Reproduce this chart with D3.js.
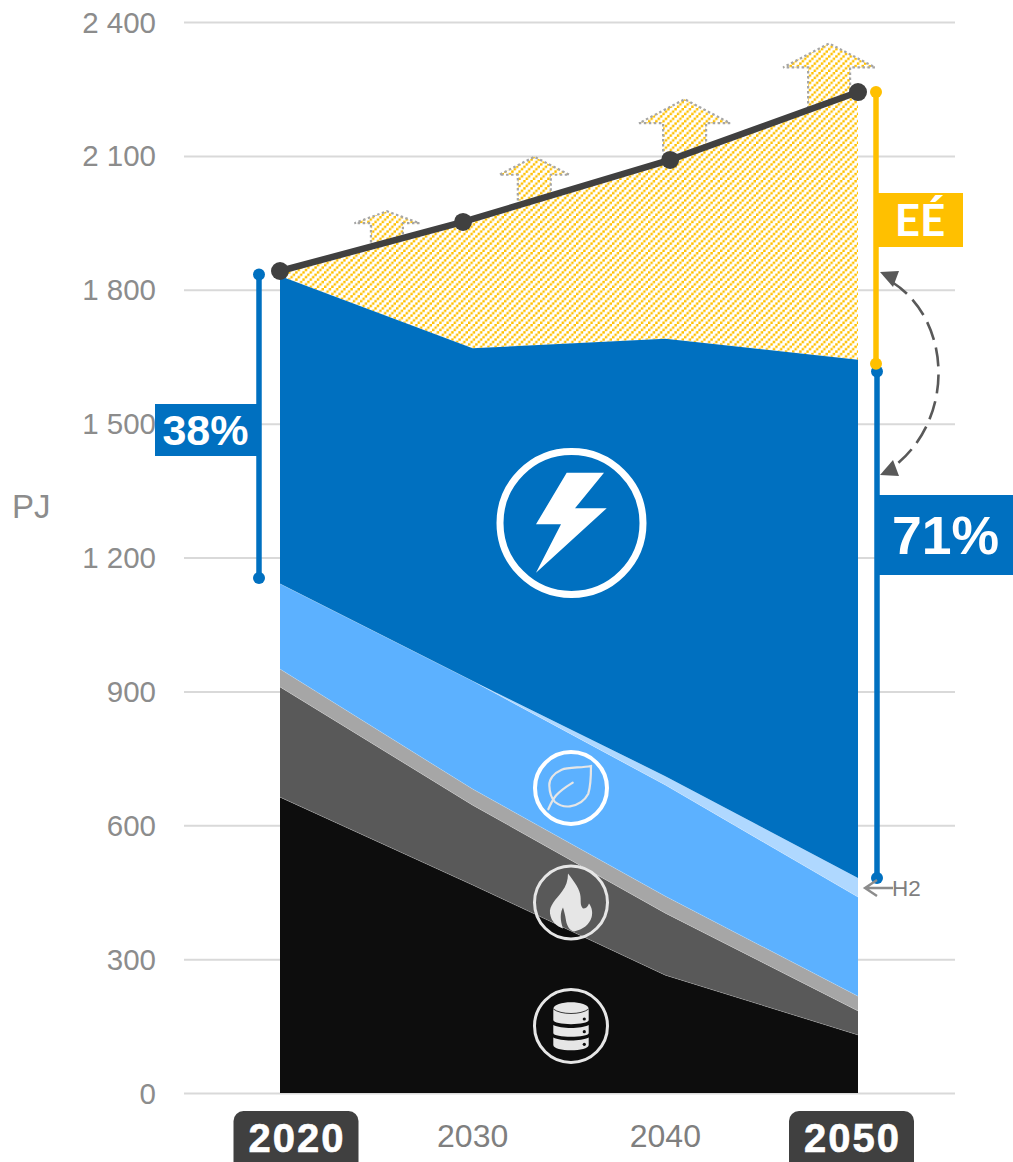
<!DOCTYPE html>
<html><head><meta charset="utf-8">
<script src="https://cdn.jsdelivr.net/npm/d3@7"></script>
<style>html,body{margin:0;padding:0;background:#fff;overflow:hidden}svg{display:block}</style>
</head><body><svg id="c" width="1013" height="1162"></svg>
<script>
const years=[2020,2030,2040,2050];
const seriesNames=["coal","gas","oil","renewables","h2","electricity"];
const coal=[663,466,264,130];
const gas=[247,179,139,54];
const oil=[40,36,38,33];
const renewables=[191,242,249,222];
const h2=[0,0,20,43];
const electricity=[690,746,980,1161];
const efficiencyTop=[1842,1956,2086,2243];
const lineYears=[2020,2029.5,2040.25,2050];
const lineValues=[1842,1952,2091,2243];
const yTicks=[0,300,600,900,1200,1500,1800,2100,2400];
const arrowYears=[2025.55,2033.2,2041,2048.5];
const arrowTips=[1976,2098,2227,2352];
const arrowBases=[1906,2000,2110,2195];
const colors=["#0D0D0D","#595959","#A6A6A6","#5CB1FF","#AFD8FF","#0070C0"];

const svg=d3.select("#c");
const F="'Liberation Sans',Arial,sans-serif";
const x=d3.scaleLinear().domain([2020,2050]).range([280,858]);
const y=d3.scaleLinear().domain([0,2400]).range([1093,22]);
const rows=years.map((yr,i)=>({year:yr,coal:coal[i],gas:gas[i],oil:oil[i],renewables:renewables[i],h2:h2[i],electricity:electricity[i],top:efficiencyTop[i]}));
const stacked=d3.stack().keys(seriesNames)(rows);

const defs=svg.append("defs");
const T=7.2,S=T/3;
const p=defs.append("pattern").attr("id","hatch").attr("patternUnits","userSpaceOnUse").attr("width",T).attr("height",T);
p.append("rect").attr("width",T).attr("height",T).attr("fill","#fff");
[[0,2],[1,1],[2,0]].forEach(([a,b])=>p.append("rect").attr("x",a*S).attr("y",b*S).attr("width",S).attr("height",S).attr("fill","#FFC000"));

// grid + axis
const g=svg.append("g").attr("transform","translate(184,0)");
g.call(d3.axisLeft(y).tickValues(yTicks).tickSize(-771).tickPadding(28)
  .tickFormat(d=>d>=1000?`${Math.floor(d/1000)} ${String(d%1000).padStart(3,"0")}`:d));
g.select(".domain").remove();
g.selectAll("line").attr("stroke","#D9D9D9").attr("stroke-width",2);
g.selectAll("text").attr("fill","#8C8C8C").attr("font-family",F).attr("font-size",29.5).attr("dy","0.34em");

svg.append("text").text("PJ").attr("x",12).attr("y",518).attr("font-family",F).attr("font-size",33).attr("fill","#8C8C8C");

// hatch arrows
const arrowW=[16,16.5,21.5,21],headW=[32.5,35,45.5,46],headH=[12,18,24,24];
arrowYears.forEach((yr,i)=>{
  const cx=x(yr),t=y(arrowTips[i]),b=y(arrowBases[i]),hy=t+headH[i],w=arrowW[i],hw=headW[i];
  svg.append("path").attr("d",`M${cx-w},${b}L${cx-w},${hy}L${cx-hw},${hy}L${cx},${t}L${cx+hw},${hy}L${cx+w},${hy}L${cx+w},${b}`)
    .attr("fill","url(#hatch)").attr("stroke","#A6A6A6").attr("stroke-width",2.2).attr("stroke-dasharray","2.5 2.5");
});

// hatched efficiency area
const hatchArea=d3.area().x(d=>x(d.year)).y0(d=>y(d.coal+d.gas+d.oil+d.renewables+d.h2+d.electricity)).y1(d=>y(d.top));
svg.append("path").attr("d",hatchArea(rows)).attr("fill","url(#hatch)");

// stacked areas
const area=d3.area().x(d=>x(d.data.year)).y0(d=>y(d[0])).y1(d=>y(d[1]));
svg.append("g").selectAll("path").data(stacked).join("path")
  .attr("d",area).attr("fill",(d,i)=>colors[i]);
// thin separators between layers
const edge=d3.line().x(d=>x(d.data.year)).y(d=>y(d[1]));
svg.append("g").selectAll("path").data(stacked.slice(0,4)).join("path")
  .attr("d",edge).attr("fill","none").attr("stroke","#fff").attr("stroke-opacity",.3).attr("stroke-width",.7);

// total line
const lineData=lineYears.map((yr,i)=>[yr,lineValues[i]]);
svg.append("path").attr("d",d3.line().x(d=>x(d[0])).y(d=>y(d[1]))(lineData))
  .attr("fill","none").attr("stroke","#404040").attr("stroke-width",6.5);
svg.append("g").selectAll("circle").data(lineData).join("circle")
  .attr("cx",d=>x(d[0])).attr("cy",d=>y(d[1])).attr("r",9).attr("fill","#404040");

// brackets
function bracket(px,v0,v1,col){
  const s=svg.append("g");
  s.append("line").attr("x1",px).attr("x2",px).attr("y1",y(v0)).attr("y2",y(v1)).attr("stroke",col).attr("stroke-width",5.5);
  [v0,v1].forEach(v=>s.append("circle").attr("cx",px).attr("cy",y(v)).attr("r",6).attr("fill",col));
}
bracket(259,1834,1154,"#0070C0");
bracket(877,1617,482,"#0070C0");
bracket(876,2243,1634,"#FFC000");

function tag(x0,y0,w,h,col,txt,size,fam,tx){
  svg.append("rect").attr("x",x0).attr("y",y0).attr("width",w).attr("height",h).attr("fill",col);
  svg.append("text").text(txt).attr("x",tx).attr("y",y0+h/2).attr("dy","0.36em").attr("text-anchor","middle")
    .attr("font-family",fam).attr("font-weight",700).attr("font-size",size).attr("fill","#fff");
}
tag(155,404,103,52,"#0070C0","38%",43,F,205.5);
tag(878,495,135,80,"#0070C0","71%",53.5,F,945.5);
tag(874,193,89,54,"#FFC000","EÉ",44,"Lato,sans-serif",920);

// dashed double arrow
svg.append("path").attr("d","M892,282 C952,320 956,420 892,468").attr("fill","none")
  .attr("stroke","#595959").attr("stroke-width",2.6).attr("stroke-dasharray","19 8");
svg.append("path").attr("d","M880,272 L899,271 L893,287Z").attr("fill","#595959");
svg.append("path").attr("d","M880,475 L899,476 L893,460Z").attr("fill","#595959");

// H2
svg.append("path").attr("d","M893,888L865,888M877,880L865,888L877,896").attr("fill","none").attr("stroke","#8C8C8C").attr("stroke-width",2.4);
svg.append("text").text("H2").attr("x",892).attr("y",896).attr("font-family",F).attr("font-size",22.5).attr("fill","#7F7F7F");

// x labels
[2030,2040].forEach(yr=>svg.append("text").text(yr).attr("x",x(yr)).attr("y",1147).attr("text-anchor","middle")
  .attr("font-family",F).attr("font-size",32).attr("fill","#7F7F7F"));
[[2020,16],[2050,-6.5]].forEach(([yr,off])=>{
  const cx=x(yr)+off;
  svg.append("rect").attr("x",cx-62.5).attr("y",1111).attr("width",125).attr("height",60).attr("rx",10).attr("fill","#404040");
  svg.append("text").text(yr).attr("x",cx+1).attr("y",1152).attr("text-anchor","middle").attr("font-family",F).attr("font-weight",700)
    .attr("font-size",40).attr("letter-spacing",2).attr("fill","#fff").attr("stroke","#fff").attr("stroke-width",.6);
});

// icons
function ring(cx,cy,r,sw,col){
  const s=svg.append("g").attr("transform",`translate(${cx},${cy})`);
  s.append("circle").attr("r",r).attr("fill","none").attr("stroke",col).attr("stroke-width",sw);
  return s;
}
const bolt=ring(571.5,523,71.5,7,"#fff");
bolt.append("path").attr("d","M-4.8,-50.3L32.5,-50.3L3.5,-14.7L35.2,-14.7L-35.5,49.7L-10.5,1.3L-35.5,1.3Z").attr("fill","#fff");

const leaf=ring(571,788,36,4,"#fff");
leaf.append("path").attr("d","M20,-22C10,-20 -3,-21 -9.3,-18.3C-17,-15 -22,-9 -21.7,-2.7C-21.5,4 -20,10 -16,14C-11,18 -6,19 -1,18.3C7,17 14,12 17.3,5.7C20,-3 20,-13 20,-22Z")
  .attr("fill","none").attr("stroke","#E6E6E6").attr("stroke-width",2.2);
leaf.append("path").attr("d","M-22.7,21.3C-20,15 -17,10 -15,7.5C-9,1 -2,-3 1.7,-5.3").attr("fill","none").attr("stroke","#E6E6E6").attr("stroke-width",2.2).attr("stroke-linecap","round");

const fire=ring(571,902.5,36.5,3,"#E6E6E6");
fire.append("path").attr("d","M-3,-29C4,-20 9,-13 9.5,-6C10,-1 9,3 12,6C15,6 17,4 18,1C21,5 22,10 20.5,15C18.5,22 12,27 3,29C-1,28 -4,24 -5,18C-6,12 -7,8 -8,5C-11,10 -11,18 -8,26C-14,24 -20,19 -21,11C-22,3 -15,-3 -9,-11C-5,-16 -3,-22 -3,-29Z").attr("fill","#E6E6E6");

const db=ring(571,1026,36.5,3,"#E6E6E6");
db.append("path").attr("d","M-17.7,-17C-17.7,-26 17.7,-26 17.7,-17L17.7,-6C17.7,-0.5 -17.7,-0.5 -17.7,-6Z").attr("fill","#E6E6E6");
db.append("path").attr("d","M-17.7,-1C-10,3 10,3 17.7,-1L17.7,7C17.7,12 -17.7,12 -17.7,7Z").attr("fill","#E6E6E6");
db.append("path").attr("d","M-17.7,11.5C-10,15.5 10,15.5 17.7,11.5L17.7,19C17.7,26 -17.7,26 -17.7,19Z").attr("fill","#E6E6E6");
db.append("path").attr("d","M-17.7,-17C-10,-11 10,-11 17.7,-17").attr("fill","none").attr("stroke","#0D0D0D").attr("stroke-width",.8);
[-7,5.7,18.3].forEach(t=>db.append("circle").attr("cx",13.3).attr("cy",t).attr("r",1.6).attr("fill","#0D0D0D"));
</script></body></html>
